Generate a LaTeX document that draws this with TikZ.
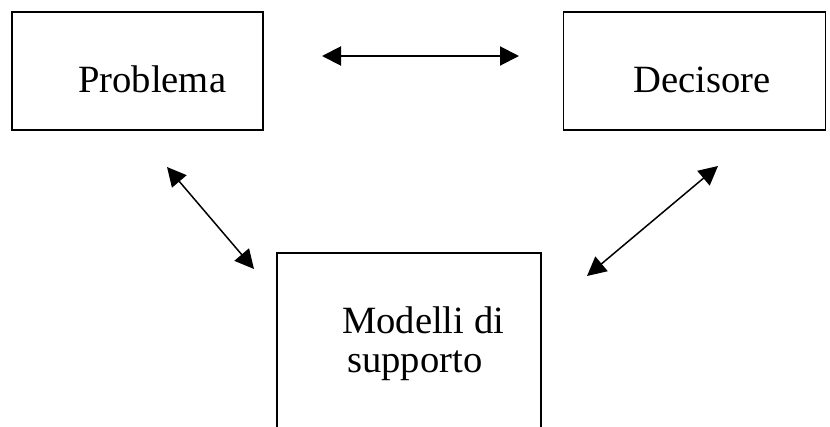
\documentclass[tikz,border=0pt]{standalone}
\usepackage{fontspec}
\setmainfont{Liberation Serif}
\usetikzlibrary{arrows.meta}
\begin{document}
\begin{tikzpicture}[x=1pt,y=-1pt,
  box/.style={draw,line width=1.6pt,rectangle,inner sep=0pt},
  lbl/.style={anchor=base west,inner sep=0pt,font=\fontsize{38.6}{44}\selectfont},
  link/.style={line width=1.5pt,{Triangle[length=19pt,width=19pt]}-{Triangle[length=19pt,width=19pt]}},
  biglink/.style={line width=2pt,{Triangle[length=19pt,width=19pt]}-{Triangle[length=19pt,width=19pt]}}]
  \useasboundingbox (0,0) rectangle (830,426);
  \clip (0,0) rectangle (830,426);
  % boxes
  \node[box,minimum width=251pt,minimum height=118pt] (prob) at (137.5,71) {};
  \node[box,minimum width=262pt,minimum height=118pt] (dec) at (694.5,71) {};
  \node[box,minimum width=264pt,minimum height=220pt] (mod) at (409,363) {};
  % labels
  \node[lbl] (tprob) at (78,92) {Problema};
  \node[lbl] (tdec) at (633,92) {Decisore};
  \node[lbl] (tmod1) at (342,333) {Modelli di};
  \node[lbl] (tmod2) at (347,372) {supporto};
  % arrow end points
  \coordinate (a1) at (322,56);
  \coordinate (a2) at (519,56);
  \coordinate (b1) at (167,167);
  \coordinate (b2) at (254,269);
  \coordinate (c1) at (718,166);
  \coordinate (c2) at (587,276);
  % connectors
  \draw[biglink] (a1) -- (a2);
  \draw[link] (b1) -- (b2);
  \draw[link] (c1) -- (c2);
\end{tikzpicture}
\end{document}
